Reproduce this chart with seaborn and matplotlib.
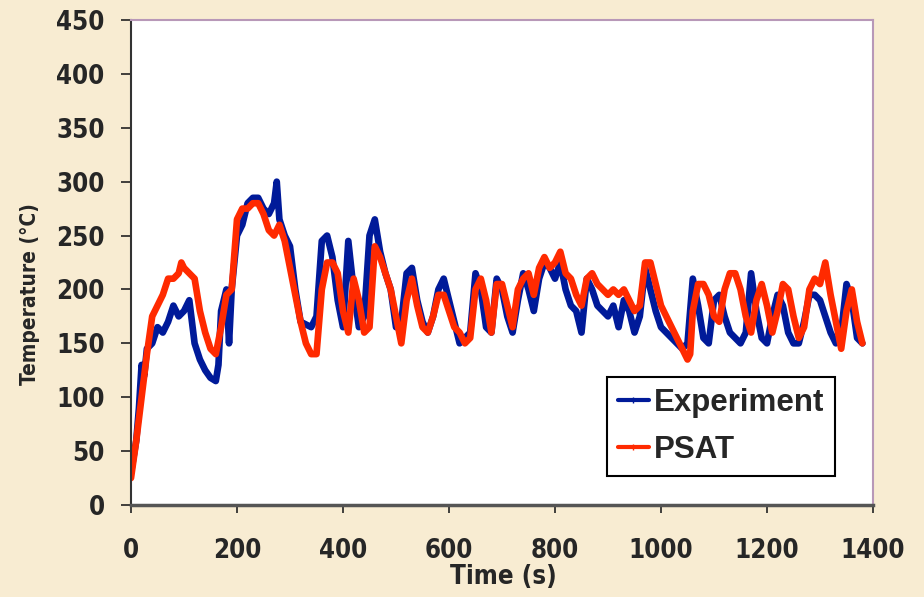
import numpy as np
import pandas as pd
import matplotlib
matplotlib.use("Agg")
import matplotlib.pyplot as plt
import seaborn as sns
from matplotlib import font_manager
from matplotlib.lines import Line2D

# ---- data ----
exp_time = [0, 5, 10, 15, 20, 25, 30, 40, 50, 60, 70, 80, 90, 100, 110, 120, 130, 140, 150, 160,
            165, 170, 180, 185, 190, 200, 210, 220, 230, 240, 250, 260, 270, 275, 280, 290, 300,
            310, 320, 340, 350, 360, 370, 380, 390, 400, 410, 420, 430, 440, 450, 460, 470, 480,
            490, 500, 510, 520, 530, 540, 550, 560, 570, 580, 590, 600, 610, 620, 640, 650, 660,
            670, 680, 690, 700, 710, 720, 730, 740, 750, 760, 770, 780, 790, 800, 810, 820, 830,
            840, 850, 860, 870, 880, 890, 900, 910, 920, 930, 940, 950, 960, 970, 980, 990, 1000,
            1010, 1020, 1030, 1040, 1050, 1060, 1070, 1080, 1090, 1100, 1110, 1120, 1130, 1140,
            1150, 1160, 1170, 1180, 1190, 1200, 1210, 1220, 1230, 1240, 1250, 1260, 1270, 1280,
            1290, 1300, 1310, 1320, 1330, 1340, 1350, 1360, 1370, 1380]
exp_temp = [30, 45, 60, 90, 130, 120, 145, 150, 165, 160, 170, 185, 175, 180, 190, 150, 135, 125, 118, 115,
            130, 180, 200, 150, 200, 250, 260, 280, 285, 285, 275, 270, 280, 300, 265, 250, 240,
            200, 170, 165, 175, 245, 250, 230, 190, 165, 245, 200, 165, 175, 250, 265, 235, 215,
            200, 165, 170, 215, 220, 190, 170, 160, 175, 200, 210, 190, 170, 150, 160, 215, 200,
            165, 160, 210, 200, 175, 160, 190, 215, 200, 180, 210, 225, 220, 210, 225, 200, 185,
            180, 160, 210, 200, 185, 180, 175, 185, 165, 190, 180, 160, 175, 220, 200, 180, 165,
            160, 155, 150, 145, 150, 210, 185, 155, 150, 190, 195, 175, 160, 155,
            150, 160, 215, 180, 155, 150, 175, 195, 185, 160, 150, 150, 170, 195,
            195, 190, 175, 160, 150, 160, 205, 190, 155, 150]

psat_time = [0, 10, 20, 30, 40, 50, 60, 70, 80, 90, 95, 100, 110, 120, 130, 140, 150, 160, 170, 180,
             190, 200, 210, 220, 230, 240, 250, 260, 270, 280, 290, 300, 310, 320, 330, 340, 350,
             360, 370, 380, 390, 400, 410, 420, 430, 440, 450, 460, 470, 480, 490, 500, 510, 520,
             530, 540, 550, 560, 570, 580, 590, 600, 610, 620, 630, 640, 650, 660, 670, 680, 690,
             700, 710, 720, 730, 740, 750, 760, 770, 780, 790, 800, 810, 820, 830, 840, 850, 860,
             870, 880, 890, 900, 910, 920, 930, 940, 950, 960, 970, 980, 990, 1000, 1010, 1020,
             1030, 1040, 1050, 1055, 1060, 1070, 1080, 1090, 1100, 1110, 1120, 1130, 1140, 1150,
             1160, 1170, 1180, 1190, 1200, 1210, 1220, 1230, 1240, 1250, 1260, 1270, 1280, 1290,
             1300, 1310, 1320, 1330, 1340, 1350, 1360, 1370, 1380]
psat_temp = [25, 60, 100, 140, 175, 185, 195, 210, 210, 215, 225, 220, 215, 210, 180, 160, 145, 140, 165, 195,
             200, 265, 275, 275, 280, 280, 270, 255, 250, 260, 245, 220, 195, 170, 150, 140, 140,
             200, 225, 225, 215, 180, 160, 210, 190, 160, 165, 240, 230, 215, 200, 175, 150, 190,
             210, 185, 165, 160, 175, 195, 195, 180, 165, 160, 150, 155, 200, 210, 190, 160, 205,
             205, 185, 165, 200, 210, 215, 195, 220, 230, 220, 225, 235, 215, 210, 195, 185, 210,
             215, 205, 200, 195, 200, 195, 200, 190, 180, 185, 225, 225, 205, 185, 175, 165,
             155, 145, 135, 140, 180, 205, 205, 195, 175, 170, 200, 215, 215, 200,
             175, 160, 190, 205, 185, 160, 180, 205, 200, 175, 155, 165, 200, 210,
             205, 225, 195, 170, 145, 180, 200, 170, 150]

series_names = ["Experiment", "PSAT"]
x_ticks = [0, 200, 400, 600, 800, 1000, 1200, 1400]
y_ticks = [0, 50, 100, 150, 200, 250, 300, 350, 400, 450]

df = pd.concat([
    pd.DataFrame({"Time": exp_time, "Temp": exp_temp, "Series": series_names[0]}),
    pd.DataFrame({"Time": psat_time, "Temp": psat_temp, "Series": series_names[1]}),
], ignore_index=True)

sns.set_style("white")
plt.rcParams["font.family"] = ["Liberation Sans", "DejaVu Sans"]

# narrow bold font for axes text, if a condensed face is available
cond = [f for f in font_manager.fontManager.ttflist
        if ("Condensed" in f.fname or "Narrow" in f.fname) and f.weight in ("bold", 700)]
if any("Narrow" in f.fname for f in cond):
    tick_font = {"family": ["Liberation Sans Narrow", "DejaVu Sans"], "stretch": "condensed"}
elif cond:
    tick_font = {"family": ["DejaVu Sans"], "stretch": "condensed"}
else:
    tick_font = {"family": ["DejaVu Sans"], "stretch": "normal"}

BG = "#F8ECD2"
colors = {"Experiment": "#001A99", "PSAT": "#FF2A00"}

fig = plt.figure(figsize=(9.24, 5.97), dpi=100, facecolor=BG)
ax = fig.add_axes([131 / 924, 1 - 505 / 597, (873 - 131) / 924, (505 - 20) / 597])
ax.set_facecolor("white")

sns.lineplot(data=df, x="Time", y="Temp", hue="Series", palette=colors,
             hue_order=series_names, linewidth=4.8, ax=ax, legend=False,
             estimator=None, sort=False)

ax.set_xlim(0, 1400)
ax.set_ylim(0, 450)
ax.set_xticks(x_ticks)
ax.set_yticks(y_ticks)
ax.tick_params(axis="x", direction="out", length=6, width=1.2, color="#222222", pad=18,
               bottom=True)
ax.tick_params(axis="y", direction="out", length=7, width=1.2, color="#222222", pad=12,
               left=True)
for lab in ax.get_xticklabels() + ax.get_yticklabels():
    lab.set_family(tick_font["family"])
    lab.set_stretch(tick_font["stretch"])
    lab.set_fontweight("bold")
    lab.set_fontsize(18.5)

ax.set_xlabel("Time (s)", family=tick_font["family"], stretch=tick_font["stretch"],
              fontweight="bold", fontsize=18.5)
ax.xaxis.set_label_coords((503 - 131) / 742, -(564 - 505) / 485)
ax.set_ylabel("Temperature (°C)", family=tick_font["family"], stretch=tick_font["stretch"],
              fontweight="bold", fontsize=15)
ax.yaxis.set_label_coords(-(131 - 40) / 742, (505 - 294) / 485)

for side in ["left", "bottom"]:
    ax.spines[side].set_color("#333333")
    ax.spines[side].set_linewidth(1.5)
for side in ["top", "right"]:
    ax.spines[side].set_color("#B898B8")
    ax.spines[side].set_linewidth(1.5)
ax.spines["bottom"].set_color("#555555")
ax.spines["bottom"].set_linewidth(2.5)

handles = [Line2D([0], [0], color=colors[n], lw=3, marker="|", markersize=5) for n in series_names]
leg = ax.legend(handles, series_names, loc="lower right",
                bbox_to_anchor=((835 - 131) / 742, (505 - 476) / 485),
                frameon=True, fancybox=False, edgecolor="black", framealpha=1,
                prop={"family": ["Liberation Sans", "DejaVu Sans"], "weight": "bold", "size": 22.5},
                handlelength=1.0, handletextpad=0.15, borderpad=0.35, labelspacing=0.55,
                borderaxespad=0)
leg.get_frame().set_linewidth(1.5)

fig.savefig("out.png", dpi=100, facecolor=BG)
